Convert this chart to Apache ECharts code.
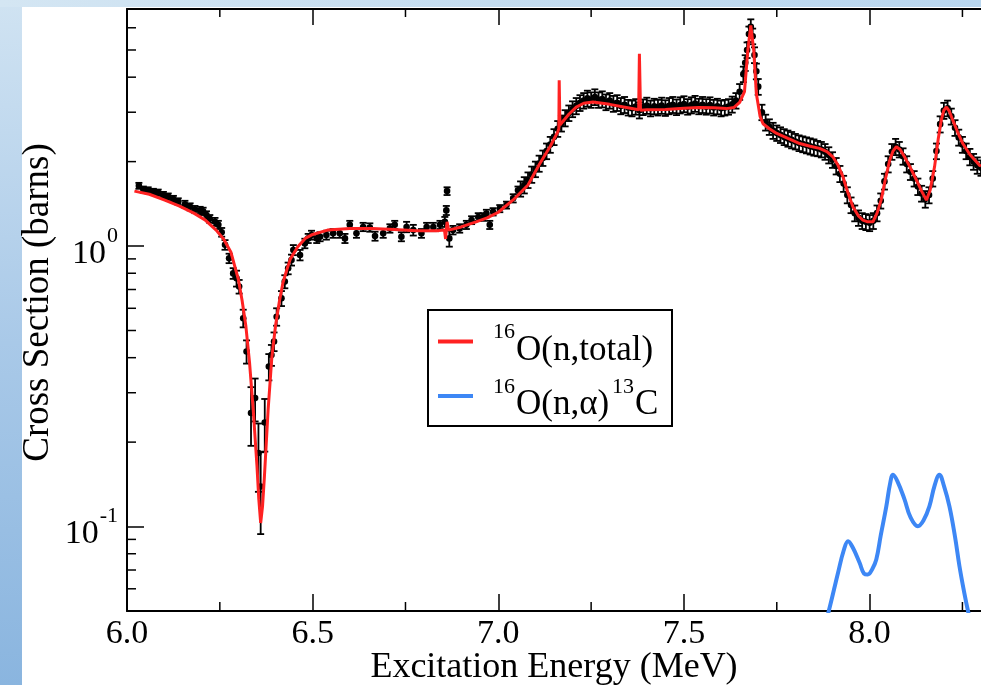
<!DOCTYPE html>
<html>
<head>
<meta charset="utf-8">
<script src="https://cdn.jsdelivr.net/npm/echarts@6/dist/echarts.min.js"></script>
<style>
html,body{margin:0;padding:0;width:981px;height:685px;overflow:hidden;}
#bg{position:absolute;left:0;top:0;width:981px;height:685px;background:linear-gradient(180deg,#d0e3f2 0%,#a9c9e8 50%,#8ab5df 100%);}
#topstrip{position:absolute;left:0;top:0;width:981px;height:7px;background:linear-gradient(90deg,#d4e6f3 0%,#c4dcef 50%,#b9d6ee 100%);}
#white{position:absolute;left:22px;top:7px;width:959px;height:678px;background:#fff;}
#chart{position:absolute;left:0;top:0;width:981px;height:685px;}
</style>
</head>
<body>
<div id="bg"></div><div id="topstrip"></div><div id="white"></div>
<div id="chart"></div>
<script>
// ---------------- DATA ----------------
const xTickValues = [6.0, 6.5, 7.0, 7.5, 8.0];
const xMinorTicks = [6.25, 6.75, 7.25, 7.75, 8.25];
const yMinorTicks = [0.06,0.07,0.08,0.09,0.2,0.3,0.4,0.5,0.6,0.7,0.8,0.9,2,3,4,5,6];
const seriesNames = ['16O(n,total)', '16O(n,α)13C'];

// R-matrix fit, total cross section [E (MeV), sigma (b)]
const fitTotal = [
[6.02,1.57],[6.06,1.53],[6.10,1.46],[6.14,1.39],[6.18,1.31],[6.21,1.24],[6.24,1.14],[6.26,1.06],
[6.28,0.95],[6.30,0.76],[6.31,0.64],[6.32,0.52],[6.33,0.385],[6.34,0.26],[6.35,0.165],[6.355,0.125],
[6.36,0.103],[6.365,0.118],[6.37,0.15],[6.38,0.26],[6.39,0.40],[6.40,0.52],[6.41,0.63],[6.42,0.74],
[6.43,0.82],[6.44,0.90],[6.46,0.995],[6.48,1.065],[6.50,1.10],[6.54,1.14],[6.60,1.155],[6.66,1.155],
[6.72,1.145],[6.78,1.135],[6.84,1.135],[6.855,1.14],[6.858,1.06],[6.862,1.22],[6.866,1.14],[6.90,1.17],
[6.94,1.22],[6.97,1.26],[7.00,1.32],[7.04,1.46],[7.08,1.65],[7.11,1.95],[7.14,2.27],[7.16,2.55],
[7.163,2.62],[7.164,3.9],[7.166,2.70],[7.17,2.72],[7.19,2.95],[7.21,3.13],[7.23,3.23],[7.255,3.26],
[7.28,3.23],[7.30,3.20],[7.345,3.12],[7.378,3.06],[7.380,4.85],[7.383,3.05],[7.40,3.06],[7.45,3.07],
[7.50,3.10],[7.54,3.12],[7.58,3.11],[7.614,3.09],[7.635,3.12],[7.65,3.25],[7.663,3.55],[7.672,4.98],
[7.68,6.12],[7.688,4.98],[7.695,3.49],[7.705,2.90],[7.713,2.73],[7.73,2.62],[7.75,2.52],[7.78,2.42],
[7.812,2.32],[7.84,2.27],[7.865,2.23],[7.885,2.17],[7.901,2.08],[7.915,1.94],[7.928,1.77],[7.94,1.57],
[7.955,1.38],[7.97,1.28],[7.982,1.237],[7.995,1.22],[8.009,1.22],[8.02,1.31],[8.031,1.458],[8.042,1.72],
[8.054,2.02],[8.063,2.18],[8.072,2.26],[8.082,2.21],[8.094,2.08],[8.11,1.90],[8.126,1.72],[8.14,1.57],
[8.153,1.458],[8.163,1.58],[8.175,1.92],[8.185,2.42],[8.193,2.81],[8.20,3.05],[8.207,3.13],[8.215,3.02],
[8.224,2.81],[8.237,2.55],[8.251,2.32],[8.27,2.12],[8.296,1.94],[8.30,1.93]
];

// R-matrix fit, (n,alpha) cross section
const fitAlpha = [
[7.88,0.045],[7.89,0.05],[7.915,0.0685],[7.93,0.082],[7.942,0.0887],[7.955,0.084],[7.973,0.0743],
[7.985,0.068],[7.995,0.0675],[8.007,0.0705],[8.018,0.0763],[8.03,0.093],[8.045,0.118],[8.055,0.142],
[8.063,0.153],[8.075,0.145],[8.094,0.125],[8.11,0.108],[8.13,0.1002],[8.145,0.105],[8.161,0.118],
[8.175,0.140],[8.188,0.153],[8.20,0.14],[8.215,0.118],[8.23,0.092],[8.242,0.0722],[8.255,0.058],
[8.265,0.05],[8.275,0.044]
];

// measured total cross section [E, sigma, error]
const expSparse = [
[6.032,1.64,0.04],[6.044,1.59,0.04],[6.057,1.58,0.04],[6.071,1.56,0.04],[6.084,1.55,0.04],
[6.098,1.52,0.04],[6.111,1.50,0.04],[6.125,1.47,0.04],[6.138,1.44,0.04],[6.156,1.41,0.04],
[6.170,1.38,0.04],[6.183,1.35,0.04],[6.197,1.34,0.04],[6.205,1.33,0.04],[6.214,1.29,0.04],
[6.223,1.25,0.04],[6.237,1.22,0.04],[6.246,1.19,0.04],[6.255,1.12,0.04],[6.264,1.01,0.04],
[6.275,0.904,0.035],[6.286,0.799,0.035],[6.295,0.767,0.05],[6.302,0.717,0.04],[6.313,0.553,0.04],
[6.322,0.421,0.04],[6.334,0.254,0.06],[6.345,0.287,0.05],[6.354,0.183,0.05],[6.360,0.139,0.045],
[6.371,0.235,0.05],[6.382,0.372,0.04],[6.389,0.409,0.035],[6.396,0.457,0.035],[6.403,0.56,0.04],
[6.416,0.651,0.04],[6.425,0.747,0.04],[6.434,0.833,0.04],[6.443,0.892,0.04],[6.448,0.968,0.04],
[6.466,0.929,0.04],[6.479,1.022,0.04],[6.488,1.065,0.04],[6.497,1.094,0.04],[6.511,1.065,0.04],
[6.520,1.08,0.04],[6.537,1.094,0.04],[6.555,1.11,0.04],[6.573,1.11,0.04],[6.587,1.065,0.04],
[6.600,1.19,0.04],[6.618,1.11,0.04],[6.636,1.17,0.04],[6.654,1.165,0.04],[6.668,1.085,0.04],
[6.690,1.11,0.04],[6.708,1.156,0.04],[6.721,1.19,0.04],[6.739,1.08,0.04],[6.753,1.17,0.05],
[6.771,1.14,0.05],[6.793,1.11,0.04],[6.807,1.17,0.04],[6.825,1.17,0.04],[6.843,1.19,0.04],
[6.856,1.22,0.05],[6.860,1.34,0.05],[6.862,1.57,0.05],[6.868,1.065,0.07],[6.878,1.14,0.04],
[6.896,1.156,0.04],[6.914,1.19,0.04],[6.928,1.237,0.04],[6.946,1.27,0.04],[6.959,1.27,0.04],
[6.968,1.307,0.04],[6.977,1.19,0.04],[6.986,1.325,0.04],[7.004,1.36,0.04],[7.022,1.40,0.04],
[7.040,1.48,0.05],[7.053,1.58,0.05]
];
const expDense = [
[7.06,1.60,0.10],[7.07,1.65,0.11],[7.08,1.72,0.11],[7.09,1.80,0.12],[7.10,1.88,0.12],[7.11,1.97,0.13],
[7.12,2.06,0.13],[7.13,2.18,0.14],[7.14,2.30,0.15],[7.15,2.45,0.16],[7.16,2.62,0.17],[7.17,2.74,0.18],
[7.18,2.86,0.19],[7.19,2.98,0.19],[7.20,3.08,0.20],[7.21,3.16,0.21],[7.22,3.24,0.21],[7.23,3.30,0.21],
[7.24,3.36,0.22],[7.25,3.32,0.21],[7.26,3.40,0.22],[7.27,3.32,0.21],[7.28,3.34,0.22],[7.29,3.26,0.21],
[7.30,3.30,0.21],[7.31,3.22,0.21],[7.32,3.24,0.21],[7.33,3.16,0.21],[7.34,3.19,0.21],[7.35,3.12,0.20],
[7.36,3.10,0.20],[7.37,3.14,0.20],[7.38,3.05,0.20],[7.39,3.13,0.20],[7.40,3.17,0.21],[7.41,3.10,0.20],
[7.42,3.15,0.20],[7.43,3.12,0.20],[7.44,3.17,0.21],[7.45,3.11,0.20],[7.46,3.16,0.21],[7.47,3.19,0.21],
[7.48,3.13,0.20],[7.49,3.18,0.21],[7.50,3.21,0.21],[7.51,3.14,0.20],[7.52,3.18,0.21],[7.53,3.22,0.21],
[7.54,3.15,0.20],[7.55,3.19,0.21],[7.56,3.14,0.20],[7.57,3.18,0.21],[7.58,3.12,0.20],[7.59,3.15,0.20],
[7.60,3.10,0.20],[7.61,3.12,0.20],[7.62,3.14,0.20],[7.63,3.20,0.21],[7.64,3.30,0.21],[7.65,3.55,0.23],
[7.66,4.10,0.26],[7.665,4.50,0.29],[7.67,5.00,0.32],[7.675,5.70,0.36],[7.68,6.05,0.38],[7.685,5.60,0.36],
[7.69,4.80,0.31],[7.695,4.20,0.27],[7.70,3.70,0.24],[7.71,3.00,0.19],[7.72,2.76,0.18],[7.73,2.66,0.17],
[7.74,2.58,0.17],[7.75,2.53,0.16],
[7.76,2.49,0.16],[7.77,2.45,0.16],[7.78,2.42,0.16],[7.79,2.39,0.16],[7.80,2.36,0.15],[7.81,2.33,0.15],
[7.82,2.31,0.15],[7.83,2.29,0.15],[7.84,2.27,0.15],[7.85,2.25,0.15],[7.86,2.23,0.14],[7.87,2.21,0.14],
[7.88,2.17,0.14],[7.89,2.11,0.14],[7.90,2.03,0.13],[7.91,1.93,0.13],[7.92,1.81,0.12],[7.93,1.67,0.11],
[7.94,1.52,0.10],[7.95,1.40,0.09],[7.96,1.31,0.085],[7.97,1.26,0.08],[7.98,1.23,0.08],[7.99,1.22,0.08],
[8.00,1.21,0.08],[8.01,1.23,0.08],[8.02,1.31,0.085],[8.03,1.45,0.09],[8.04,1.70,0.11],[8.05,1.96,0.13],
[8.06,2.17,0.14],[8.07,2.26,0.15],[8.08,2.21,0.14],[8.09,2.09,0.14],[8.10,1.96,0.13],[8.11,1.84,0.12],
[8.12,1.74,0.11],[8.13,1.63,0.11],[8.14,1.54,0.10],[8.15,1.47,0.10],[8.16,1.52,0.10],[8.17,1.74,0.11],
[8.18,2.18,0.14],[8.19,2.72,0.18],[8.20,3.04,0.20],[8.21,3.10,0.20],[8.22,2.90,0.19],[8.23,2.64,0.17],
[8.24,2.44,0.16],[8.25,2.30,0.15],[8.26,2.18,0.14],[8.27,2.08,0.14],[8.28,2.00,0.13],[8.29,1.94,0.13],
[8.30,1.90,0.12]
];
// --------------------------------------

const FONT = '"Liberation Serif", "Times New Roman", serif';
const RED = '#ff2222';
const BLUE = '#3d87f5';

const chart = echarts.init(document.getElementById('chart'), null, {renderer: 'canvas'});

function errRender(params, api) {
  const x = api.value(0), y = api.value(1), e = api.value(2);
  const p = api.coord([x, y]);
  const hi = api.coord([x, y + e]);
  const lo = api.coord([x, Math.max(y - e, 1e-4)]);
  const cap = 3.5;
  const st = {stroke: '#000', lineWidth: 1.8};
  return {type: 'group', children: [
    {type: 'line', shape: {x1: p[0], y1: hi[1], x2: p[0], y2: lo[1]}, style: st},
    {type: 'line', shape: {x1: p[0] - cap, y1: hi[1], x2: p[0] + cap, y2: hi[1]}, style: st},
    {type: 'line', shape: {x1: p[0] - cap, y1: lo[1], x2: p[0] + cap, y2: lo[1]}, style: st},
    {type: 'circle', shape: {cx: p[0], cy: p[1], r: 3.3}, style: {fill: '#000'}}
  ]};
}

const supFmt = function (v) {
  const l = Math.log10(v);
  const r = Math.round(l);
  if (Math.abs(l - r) > 1e-6) return '';
  return '{b|10}{s|' + r + '}';
};

const option = {
  animation: false,
  backgroundColor: 'transparent',
  grid: {left: 127, top: 9, right: 0, bottom: 74, containLabel: false, outerBoundsMode: 'none'},
  xAxis: [{
    type: 'value', position: 'bottom', min: 6.0, max: 8.3, interval: 0.5,
    axisLine: {show: true, lineStyle: {color: '#000', width: 2}},
    axisTick: {show: true, inside: true, length: 17, lineStyle: {color: '#000', width: 1.5}, customValues: xTickValues},
    axisLabel: {show: true, margin: 6, fontSize: 34, fontFamily: FONT, color: '#000',
      formatter: v => v.toFixed(1), customValues: xTickValues},
    splitLine: {show: false},
    name: 'Excitation Energy (MeV)', nameLocation: 'middle', nameGap: 39, nameMoveOverlap: false,
    nameTextStyle: {fontSize: 36, fontFamily: FONT, color: '#000'}
  }, {
    type: 'value', position: 'top', min: 6.0, max: 8.3, interval: 0.5,
    axisLine: {show: true, lineStyle: {color: '#000', width: 2}},
    axisTick: {show: true, inside: true, length: 16, lineStyle: {color: '#000', width: 1.5}, customValues: xTickValues},
    axisLabel: {show: false},
    splitLine: {show: false}
  }],
  yAxis: {
    type: 'log', logBase: 10, min: 0.05, max: 7,
    axisLine: {show: true, lineStyle: {color: '#000', width: 2}},
    axisTick: {show: true, inside: true, length: 17, lineStyle: {color: '#000', width: 1.5}},
    axisLabel: {show: true, margin: 9, formatter: supFmt,
      rich: {
        b: {fontSize: 34, fontFamily: FONT, color: '#000', lineHeight: 34, padding: [16, 0, 0, 0]},
        s: {fontSize: 22, fontFamily: FONT, color: '#000', lineHeight: 22, padding: [0, 0, 20, 1]}
      }},
    splitLine: {show: false},
    minorTick: {show: false},
    name: 'Cross Section (barns)', nameLocation: 'middle', nameGap: 70, nameRotate: 90, nameMoveOverlap: false,
    nameTextStyle: {fontSize: 37, fontFamily: FONT, color: '#000', padding: [0, 0, 0, 15]}
  },
  series: [
    {
      name: 'data', type: 'custom', xAxisIndex: 0, renderItem: errRender, silent: true, z: 2,
      encode: {x: 0, y: 1}, data: expSparse.concat(expDense)
    },
    {
      name: seriesNames[0], type: 'line', xAxisIndex: 0, data: fitTotal, showSymbol: false, smooth: false,
      lineStyle: {color: RED, width: 3}, itemStyle: {color: RED}, z: 3, silent: true
    },
    {
      name: seriesNames[1], type: 'line', xAxisIndex: 0, data: fitAlpha, showSymbol: false, smooth: 0.4,
      lineStyle: {color: BLUE, width: 4}, itemStyle: {color: BLUE}, z: 3, silent: true
    },
    {
      name: 'xMinor', type: 'custom', xAxisIndex: 0, silent: true, z: 5, encode: {x: 0, y: 1},
      data: xMinorTicks.map(v => [v, 1]),
      renderItem: function (params, api) {
        const cs = params.coordSys;
        const p = api.coord([api.value(0), 1]);
        const st = {stroke: '#000', lineWidth: 1.5};
        return {type: 'group', children: [
          {type: 'line', shape: {x1: p[0], y1: cs.y + cs.height, x2: p[0], y2: cs.y + cs.height - 9}, style: st},
          {type: 'line', shape: {x1: p[0], y1: cs.y, x2: p[0], y2: cs.y + 8}, style: st}
        ]};
      }
    },
    {
      name: 'yMinor', type: 'custom', xAxisIndex: 0, silent: true, z: 5, encode: {x: 0, y: 1},
      data: yMinorTicks.map(v => [6.0, v]),
      renderItem: function (params, api) {
        const cs = params.coordSys;
        const p = api.coord([6.0, api.value(1)]);
        return {type: 'line', shape: {x1: cs.x, y1: p[1], x2: cs.x + 9, y2: p[1]},
          style: {stroke: '#000', lineWidth: 1.5}};
      }
    }
  ],
  graphic: [
    {type: 'rect', z: 10, shape: {x: 428, y: 310, width: 244, height: 116},
      style: {fill: '#fff', stroke: '#000', lineWidth: 2}},
    {type: 'line', z: 11, shape: {x1: 438, y1: 341.5, x2: 473, y2: 341.5}, style: {stroke: RED, lineWidth: 4}},
    {type: 'line', z: 11, shape: {x1: 438, y1: 396, x2: 473, y2: 396}, style: {stroke: BLUE, lineWidth: 4}},
    {type: 'text', z: 11, x: 493, y: 332, style: {text: '16', fontSize: 22, fontFamily: FONT, fill: '#000', align: 'left', verticalAlign: 'middle'}},
    {type: 'text', z: 11, x: 516, y: 351, style: {text: 'O(n,total)', fontSize: 35, fontFamily: FONT, fill: '#000', align: 'left', verticalAlign: 'middle'}},
    {type: 'text', z: 11, x: 493, y: 387, style: {text: '16', fontSize: 22, fontFamily: FONT, fill: '#000', align: 'left', verticalAlign: 'middle'}},
    {type: 'text', z: 11, x: 516, y: 405, style: {text: 'O(n,α)', fontSize: 35, fontFamily: FONT, fill: '#000', align: 'left', verticalAlign: 'middle'}},
    {type: 'text', z: 11, x: 612, y: 387, style: {text: '13', fontSize: 22, fontFamily: FONT, fill: '#000', align: 'left', verticalAlign: 'middle'}},
    {type: 'text', z: 11, x: 635, y: 405, style: {text: 'C', fontSize: 35, fontFamily: FONT, fill: '#000', align: 'left', verticalAlign: 'middle'}}
  ]
};
chart.setOption(option);
</script>
</body>
</html>
